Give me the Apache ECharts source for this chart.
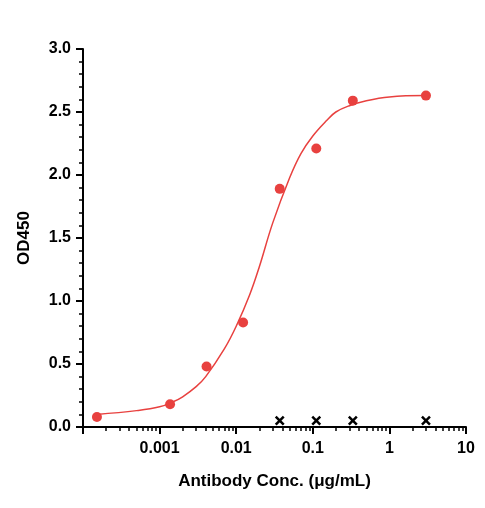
<!DOCTYPE html>
<html><head><meta charset="utf-8">
<script src="https://cdn.jsdelivr.net/npm/echarts@6/dist/echarts.min.js"></script>
<style>html,body{margin:0;background:#fff}#c{width:485px;height:508px}</style>
</head><body><div id="c"></div>
<script>
// measured points
const conc = [0.000152, 0.00137, 0.0041, 0.0123, 0.037, 0.111, 0.333, 3];
const od = [0.08, 0.18, 0.48, 0.83, 1.89, 2.21, 2.59, 2.63];
// fitted curve
const curveX = [0.00015, 0.0005, 0.001, 0.0015, 0.002, 0.003, 0.004, 0.007, 0.01, 0.015, 0.02, 0.03, 0.05, 0.07, 0.1, 0.15, 0.2, 0.3, 0.5, 1, 3];
const curveY = [0.10, 0.13, 0.16, 0.20, 0.24, 0.32, 0.40, 0.62, 0.80, 1.05, 1.27, 1.62, 1.98, 2.17, 2.31, 2.43, 2.50, 2.55, 2.59, 2.62, 2.63];
// negative control marks
const ctrlX = [0.037, 0.111, 0.333, 3];
const ctrlY = [0.05, 0.05, 0.05, 0.05];

const font = 'Liberation Sans';
const red = '#e8413f';
const chart = echarts.init(document.getElementById('c'));
chart.setOption({
  animation: false,
  grid: {left: 83, right: 19, top: 49, bottom: 81},
  xAxis: {
    type: 'log', min: 0.0001, max: 10, logBase: 10,
    name: 'Antibody Conc. (μg/mL)', nameLocation: 'middle', nameGap: 46,
    nameTextStyle: {fontFamily: font, fontWeight: 'bold', fontSize: 17, color: '#000'},
    axisLine: {lineStyle: {color: '#000', width: 2}},
    axisTick: {length: 7, lineStyle: {color: '#000', width: 2}},
    minorTick: {show: true, splitNumber: 9, length: 4, lineStyle: {color: '#000', width: 1.5}},
    axisLabel: {fontFamily: font, fontWeight: 'bold', fontSize: 16, color: '#000', margin: 14,
      formatter: v => v < 0.0005 ? '' : String(+v.toPrecision(1))},
    splitLine: {show: false}
  },
  yAxis: {
    type: 'value', min: 0, max: 3, interval: 0.5,
    name: 'OD450', nameLocation: 'middle', nameGap: 50,
    nameTextStyle: {fontFamily: font, fontWeight: 'bold', fontSize: 17, color: '#000'},
    axisLine: {show: true, lineStyle: {color: '#000', width: 2}},
    axisTick: {show: true, length: 7, lineStyle: {color: '#000', width: 2}},
    minorTick: {show: true, splitNumber: 5, length: 4, lineStyle: {color: '#000', width: 1.5}},
    axisLabel: {fontFamily: font, fontWeight: 'bold', fontSize: 16, color: '#000', margin: 12,
      formatter: v => v.toFixed(1)},
    splitLine: {show: false}
  },
  series: [
    {type: 'line', data: curveX.map((x, i) => [x, curveY[i]]), smooth: 0.4, showSymbol: false,
      lineStyle: {color: red, width: 1.5}},
    {type: 'scatter', data: conc.map((x, i) => [x, od[i]]), symbolSize: 10, itemStyle: {color: red, opacity: 1}},
    {type: 'scatter', data: ctrlX.map((x, i) => [x, ctrlY[i]]), symbol: 'path://M0,0L10,10M10,0L0,10',
      symbolSize: 8, itemStyle: {color: 'none', borderColor: '#000', borderWidth: 2.5, opacity: 1}}
  ]
});
</script></body></html>
